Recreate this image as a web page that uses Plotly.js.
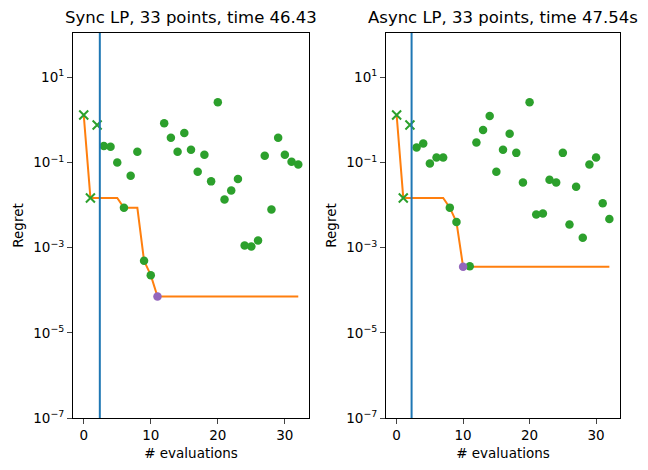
<!DOCTYPE html>
<html>
<head>
<meta charset="utf-8">
<script src="https://cdn.plot.ly/plotly-3.0.1.min.js"></script>
<style>html,body{margin:0;padding:0;background:#fff;}#chart{width:648px;height:470px;}</style>
</head>
<body>
<div id="chart"></div>
<script>
// ---- data ----
const evaluations = [0,1,2,3,4,5,6,7,8,9,10,11,12,13,14,15,16,17,18,19,20,21,22,23,24,25,26,27,28,29,30,31,32];
const syncRegret = [1.3, 0.0147, 0.76, 0.245, 0.233, 0.1, 0.0086, 0.049, 0.178, 0.00049, 0.000226, 7.1e-5,
  0.83, 0.38, 0.178, 0.49, 0.2, 0.0606, 0.151, 0.036, 2.61, 0.0135, 0.0219, 0.0407, 0.00113, 0.00107,
  0.00148, 0.143, 0.0079, 0.38, 0.151, 0.104, 0.0897];
const asyncRegret = [1.3, 0.0147, 0.76, 0.224, 0.278, 0.095, 0.131, 0.131, 0.0087, 0.004, 3.55e-4, 3.65e-4,
  0.293, 0.58, 1.23, 0.0606, 0.2, 0.475, 0.168, 0.034, 2.61, 0.006, 0.00635, 0.0394, 0.034, 0.168,
  0.0035, 0.027, 0.0017, 0.09, 0.131, 0.011, 0.0047];
const nInitial = [3, 3];
const initialBoundary = [2.4, 2.25];
const panelTitles = ["Sync LP, 33 points, time 46.43", "Async LP, 33 points, time 47.54s"];
const xTickVals = [0, 10, 20, 30];
const yTickVals = [1e-7, 1e-5, 1e-3, 1e-1, 1e1];
const yTickText = ["10<sup>\u22127</sup>", "10<sup>\u22125</sup>", "10<sup>\u22123</sup>", "10<sup>\u22121</sup>", "10<sup>1</sup>"];

// ---- build ----
const GREEN = "#2ca02c", ORANGE = "#ff7f0e", PURPLE = "#9467bd", BLUE = "#1f77b4";
const series = [syncRegret, asyncRegret];
const traces = [];
series.forEach((vals, i) => {
  const xa = i === 0 ? "x" : "x2", ya = i === 0 ? "y" : "y2";
  const n0 = nInitial[i];
  // cumulative best
  const best = [];
  let m = Infinity;
  vals.forEach(v => { m = Math.min(m, v); best.push(m); });
  let bi = 0;
  vals.forEach((v, k) => { if (v < vals[bi]) bi = k; });
  traces.push({x: evaluations, y: best, xaxis: xa, yaxis: ya, mode: "lines",
    line: {color: ORANGE, width: 2}, hoverinfo: "skip"});
  traces.push({x: evaluations.slice(0, n0), y: vals.slice(0, n0), xaxis: xa, yaxis: ya, mode: "markers",
    marker: {symbol: "x-thin", size: 9, color: GREEN, line: {color: GREEN, width: 2}}});
  const rx = [], ry = [];
  for (let k = n0; k < vals.length; k++) { if (k !== bi) { rx.push(evaluations[k]); ry.push(vals[k]); } }
  traces.push({x: rx, y: ry, xaxis: xa, yaxis: ya, mode: "markers",
    marker: {symbol: "circle", size: 8.5, color: GREEN}});
  traces.push({x: [evaluations[bi]], y: [vals[bi]], xaxis: xa, yaxis: ya, mode: "markers",
    marker: {symbol: "circle", size: 8.5, color: PURPLE}});
});

const font = {family: "DejaVu Sans, sans-serif", size: 13.5, color: "#000"};
const xBase = {range: [-1.6, 33.6], tickvals: xTickVals, ticks: "outside", ticklen: 5, tickwidth: 1,
  showline: true, mirror: true, linecolor: "#000", linewidth: 1, showgrid: false, zeroline: false,
  title: {text: "# evaluations", font: {size: 13.5}, standoff: 6}};
const yBase = {type: "log", range: [-7, 2.04], tickvals: yTickVals, ticktext: yTickText, ticks: "outside",
  ticklen: 5, tickwidth: 1, showline: true, mirror: true, linecolor: "#000", linewidth: 1,
  showgrid: false, zeroline: false, title: {text: "Regret", font: {size: 13.5}, standoff: 6}};

const d1 = [0, 236/547], d2 = [313/547, 1];
const layout = {
  width: 648, height: 470, margin: {l: 73, r: 28, t: 33, b: 52},
  paper_bgcolor: "#fff", plot_bgcolor: "#fff", showlegend: false, font: font,
  xaxis: Object.assign({}, xBase, {domain: d1, anchor: "y"}),
  yaxis: Object.assign({}, yBase, {anchor: "x"}),
  xaxis2: Object.assign({}, xBase, {domain: d2, anchor: "y2"}),
  yaxis2: Object.assign({}, yBase, {anchor: "x2"}),
  shapes: initialBoundary.map((b, i) => ({type: "line", xref: i === 0 ? "x" : "x2",
    yref: i === 0 ? "y domain" : "y2 domain", x0: b, x1: b, y0: 0, y1: 1,
    line: {color: BLUE, width: 2}})),
  annotations: panelTitles.map((t, i) => ({text: t, xref: "paper", yref: "paper",
    x: (i === 0 ? (d1[0] + d1[1]) : (d2[0] + d2[1])) / 2, y: 1, yshift: 4,
    xanchor: "center", yanchor: "bottom", showarrow: false, font: {size: 16.5}}))
};
Plotly.newPlot("chart", traces, layout, {displayModeBar: false, staticPlot: true});
</script>
</body>
</html>
